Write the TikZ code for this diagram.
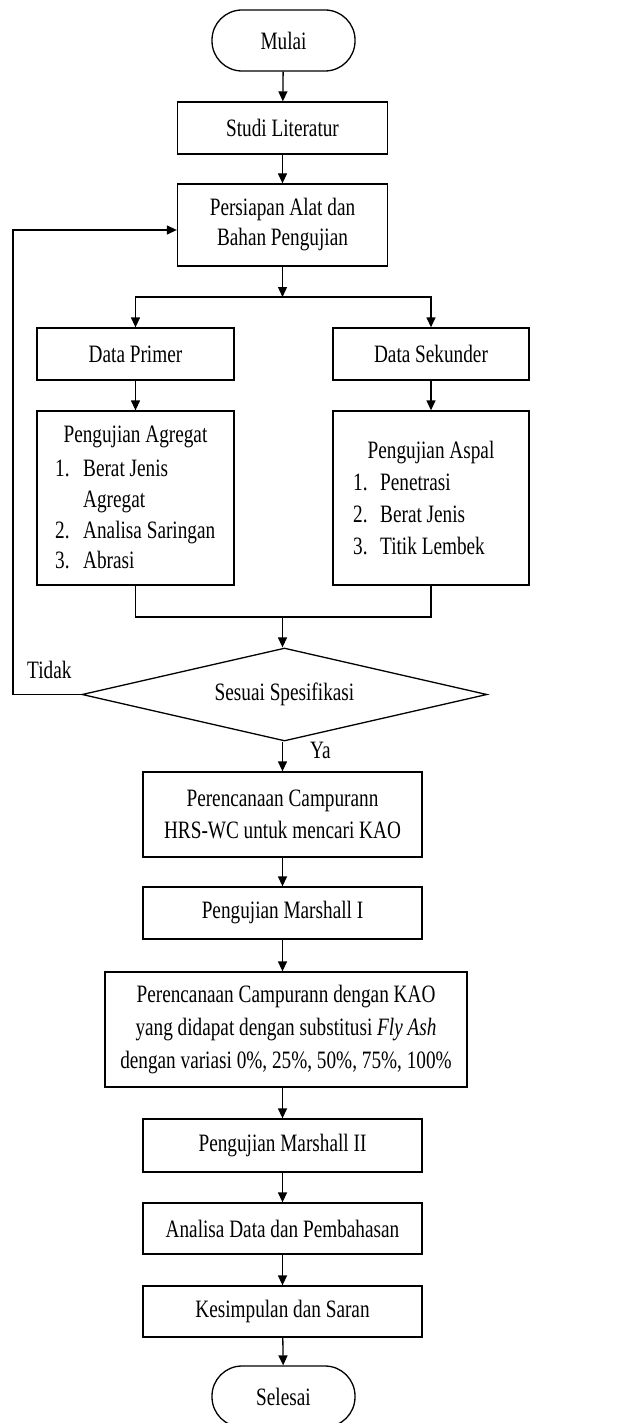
\documentclass[tikz,border=0pt]{standalone}
\usepackage{fontspec}
\setmainfont[FakeStretch=0.77]{Liberation Serif}
\usetikzlibrary{shapes.geometric,arrows.meta}
\begin{document}
\begin{tikzpicture}[x=1pt,y=-1pt,
  every node/.style={font=\fontsize{25}{31}\selectfont},
  box/.style={draw, line width=1.3pt, inner sep=0pt, align=center, minimum width=279pt, minimum height=52pt},
  term/.style={box, rounded corners=30pt, minimum width=143pt, minimum height=61pt},
  decision/.style={draw, line width=1.3pt, shape=diamond, inner sep=0pt, aspect=4.35, minimum width=405pt, minimum height=93pt},
  txt/.style={inner sep=0pt, anchor=base west},
  arr/.style={line width=1.3pt, -{Triangle[length=10pt,width=9pt]}},
  ln/.style={line width=1.3pt}]
\useasboundingbox[fill=white] (0,0) rectangle (627,1423);
% nodes
\node[term] (start) at (283.5,40.5) {Mulai};
\node[box, minimum width=210pt] (studi) at (282.5,128) {Studi Literatur};
\node[box, minimum width=210pt, minimum height=82pt, font=\fontsize{25}{30}\selectfont] (pers) at (282.5,225) {Persiapan Alat dan\\Bahan Pengujian};
\node[box, minimum width=197pt] (prim) at (135.5,354) {Data Primer};
\node[box, minimum width=196pt] (sek) at (431,354) {Data Sekunder};
\node[box, minimum width=197pt, minimum height=174pt] (agr) at (135.5,498) {};
\node[box, minimum width=196pt, minimum height=174pt] (asp) at (431,498) {};
% list texts
\node[inner sep=0pt, anchor=base] (agrt) at (135.5,442.7) {Pengujian Agregat};
\node[txt] (a1n) at (55,476) {1.};
\node[txt] (a1) at (83,476) {Berat Jenis};
\node[txt] (a1b) at (83,507) {Agregat};
\node[txt] (a2n) at (55,538) {2.};
\node[txt] (a2) at (83,538) {Analisa Saringan};
\node[txt] (a3n) at (55,568) {3.};
\node[txt] (a3) at (83,568) {Abrasi};
\node[inner sep=0pt, anchor=base] (aspt) at (431,458) {Pengujian Aspal};
\node[txt] (s1n) at (353,490.5) {1.};
\node[txt] (s1) at (380,490.5) {Penetrasi};
\node[txt] (s2n) at (353,522) {2.};
\node[txt] (s2) at (380,522) {Berat Jenis};
\node[txt] (s3n) at (353,554) {3.};
\node[txt] (s3) at (380,554) {Titik Lembek};
\node[decision] (dec) at (284.5,694.5) {Sesuai Spesifikasi};
\node[box, minimum height=85pt, font=\fontsize{25}{32}\selectfont] (per1) at (282.5,814.5) {Perencanaan Campurann\\HRS-WC untuk mencari KAO};
\node[box] (m1) at (282.5,913) {Pengujian Marshall I};
\node[box, minimum width=362pt, minimum height=115pt, font=\fontsize{25}{33}\selectfont] (per2) at (286,1029.5) {Perencanaan Campurann dengan KAO\\yang didapat dengan substitusi \textit{Fly Ash}\\dengan variasi 0\%, 25\%, 50\%, 75\%, 100\%};
\node[box, minimum height=53pt] (m2) at (282.5,1145.5) {Pengujian Marshall II};
\node[box, minimum height=51pt] (ana) at (282.5,1228.5) {Analisa Data dan Pembahasan};
\node[box, minimum height=51pt] (kes) at (282.5,1311.5) {Kesimpulan dan Saran};
\node[term] (end) at (283.5,1396.5) {Selesai};
\node[txt] (tidak) at (27,678) {Tidak};
\node[txt] (ya) at (310,758) {Ya};
% coordinates
\coordinate (br) at (282.5,297);
\coordinate (jn) at (282.5,617);
\coordinate (fb) at (13,230);
% connectors
\draw[arr] (start) -- (studi);
\draw[arr] (studi) -- (pers);
\draw[arr] (pers.south) -- (br);
\draw[arr] (br) -| (prim.north);
\draw[arr] (br) -| (sek.north);
\draw[arr] (prim) -- (agr);
\draw[arr] (sek) -- (asp);
\draw[ln] (agr.south) |- (jn) -| (asp.south);
\draw[arr] (jn) -- (jn |- dec.north);
\draw[arr] (dec.west) -| (fb) -- (fb -| pers.west);
\draw[arr] (dec.south -| per1.north) -- (per1.north);
\draw[arr] (per1) -- (m1);
\draw[arr] (m1.south) -- (m1.south |- per2.north);
\draw[arr] (m2.north |- per2.south) -- (m2.north);
\draw[arr] (m2) -- (ana);
\draw[arr] (ana) -- (kes);
\draw[arr] (kes) -- (end);
\end{tikzpicture}
\end{document}
